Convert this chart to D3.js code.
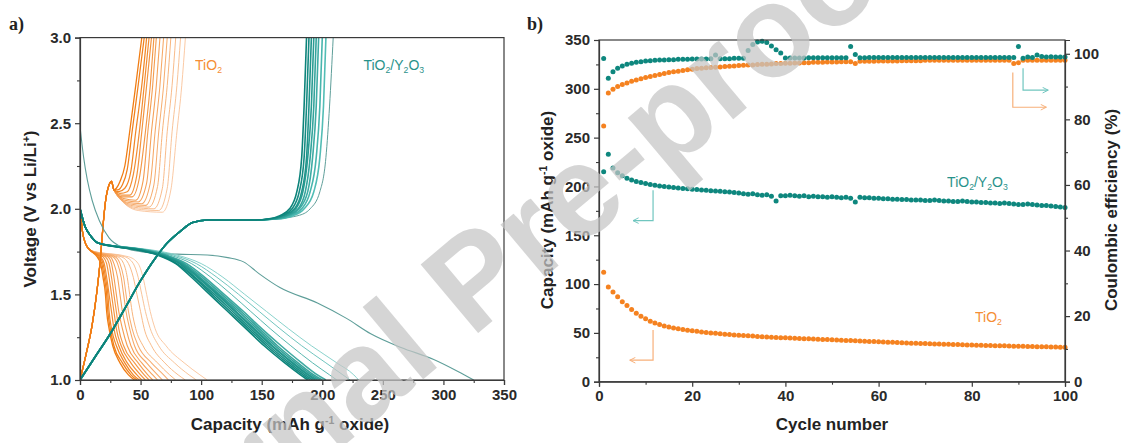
<!DOCTYPE html>
<html><head><meta charset="utf-8">
<script src="https://cdn.jsdelivr.net/npm/d3@7/dist/d3.min.js"></script>
<style>
body{margin:0;background:#fff;}
svg{display:block;font-family:"Liberation Sans",Arial,sans-serif;}
</style></head><body>
<svg id="chart" width="1125" height="443"></svg>
<script>
// ---------------- Panel a data ----------------
const voltTicks = [1.0, 1.5, 2.0, 2.5, 3.0];
const voltMinor = [1.25, 1.75, 2.25, 2.75];
const capTicksA = [0, 50, 100, 150, 200, 250, 300, 350];
const capMinorA = [25, 75, 125, 175, 225, 275, 325];

// TiO2 discharge: shared start, then capacity read at each voltage level per cycle
const tio2DisStart = [[0, 2.02], [2, 1.87], [5, 1.79], [9, 1.755]];
const tio2DisV = [1.72, 1.68, 1.60, 1.50, 1.40, 1.30, 1.20, 1.10, 1.03, 1.00];
const tio2DisCaps = [
  [14, 17, 19, 21, 22, 24, 27, 33, 40, 45],
  [15, 18, 20, 22, 23, 25, 28, 35, 42, 47],
  [16, 19, 21, 23, 24, 26, 30, 37, 44, 49],
  [17, 20, 22, 24, 26, 28, 32, 39, 47, 51],
  [19, 22, 24, 26, 28, 30, 34, 42, 50, 54],
  [21, 24, 26, 28, 30, 32, 36, 45, 53, 57],
  [23, 26, 28, 30, 32, 35, 39, 48, 56, 60],
  [25, 28, 31, 33, 35, 38, 42, 51, 60, 64],
  [27, 31, 34, 36, 38, 41, 45, 55, 64, 68],
  [29, 33, 36, 38, 40, 43, 48, 59, 69, 73],
  [31, 36, 39, 41, 43, 46, 52, 64, 74, 79],
  [34, 40, 44, 47, 50, 53, 59, 70, 81, 87],
  [37, 44, 48, 51, 54, 58, 65, 78, 90, 96],
  [40, 48, 52, 55, 58, 62, 71, 86, 99, 105]
];
// TiO2 charge: shared start, then individual tails [capacity, voltage]
const tio2ChgStart = [[0, 1.0], [5, 1.15], [10, 1.32], [14, 1.52], [17, 1.72], [19, 1.9], [21, 2.04], [24, 2.14], [26, 2.16], [28, 2.11]];
const tio2ChgTails = [
  [[30, 2.12], [33, 2.16], [37, 2.25], [41, 2.45], [46, 2.72], [51, 3.0]],
  [[31, 2.11], [35, 2.14], [39, 2.23], [43, 2.45], [48, 2.72], [53, 3.0]],
  [[32, 2.10], [37, 2.12], [42, 2.22], [46, 2.45], [51, 2.72], [55, 3.0]],
  [[33, 2.09], [39, 2.10], [44, 2.20], [49, 2.45], [53, 2.72], [57, 3.0]],
  [[34, 2.08], [41, 2.08], [47, 2.20], [51, 2.45], [55, 2.72], [59, 3.0]],
  [[35, 2.07], [43, 2.07], [49, 2.18], [54, 2.45], [58, 2.72], [61, 3.0]],
  [[36, 2.06], [46, 2.05], [52, 2.16], [56, 2.45], [60, 2.72], [63, 3.0]],
  [[37, 2.05], [48, 2.04], [55, 2.15], [59, 2.45], [63, 2.72], [66, 3.0]],
  [[38, 2.04], [51, 2.03], [58, 2.15], [62, 2.45], [66, 2.72], [69, 3.0]],
  [[40, 2.03], [54, 2.02], [61, 2.14], [65, 2.45], [69, 2.72], [72, 3.0]],
  [[42, 2.02], [57, 2.01], [64, 2.13], [68, 2.45], [72, 2.72], [75, 3.0]],
  [[44, 2.01], [61, 2.00], [68, 2.12], [72, 2.45], [76, 2.72], [79, 3.0]],
  [[46, 2.00], [65, 1.99], [72, 2.12], [76, 2.45], [80, 2.72], [83, 3.0]],
  [[48, 1.99], [68, 1.98], [75, 2.11], [80, 2.45], [84, 2.72], [87, 3.0]]
];

// TiO2/Y2O3 first discharge
const tyFirstDis = [[0, 2.48], [3, 2.3], [6, 2.17], [10, 2.05], [16, 1.93], [24, 1.83], [35, 1.775], [55, 1.745], [80, 1.735], [105, 1.73], [122, 1.715], [135, 1.69], [148, 1.62], [165, 1.54], [196, 1.45], [220, 1.36], [240, 1.27], [265, 1.19], [292, 1.12], [312, 1.05], [325, 1.0]];
// TiO2/Y2O3 discharge: shared start, capacities at voltage levels
const tyDisStart = [[0, 2.0], [4, 1.9], [9, 1.84], [15, 1.80]];
const tyDisV = [1.78, 1.76, 1.73, 1.68, 1.60, 1.50, 1.40, 1.30, 1.20, 1.10, 1.03, 1.00];
const tyDisCaps = [
  [35, 59, 80, 100, 118, 136, 154, 172, 191, 212, 226, 230],
  [34, 57, 77, 96, 113, 131, 148, 165, 183, 203, 217, 223],
  [33, 55, 74, 92, 108, 125, 141, 157, 174, 192, 206, 212],
  [32, 53, 71, 88, 103, 119, 135, 150, 166, 183, 196, 203],
  [31, 52, 70, 86, 101, 117, 133, 148, 163, 180, 193, 200],
  [31, 51, 69, 85, 99, 115, 131, 146, 161, 178, 191, 198],
  [30, 50, 68, 84, 98, 114, 129, 144, 159, 176, 189, 196],
  [30, 50, 67, 83, 97, 113, 128, 143, 158, 175, 188, 194],
  [29, 49, 66, 82, 95, 111, 126, 141, 156, 173, 186, 192],
  [29, 48, 65, 80, 94, 109, 124, 139, 154, 171, 184, 190],
  [28, 47, 64, 79, 92, 107, 122, 137, 152, 169, 182, 188]
];
// TiO2/Y2O3 charge: shared start, then tails
const tyChgStart = [[0, 1.0], [12, 1.13], [25, 1.27], [38, 1.43], [50, 1.58], [62, 1.71], [72, 1.8], [83, 1.87], [93, 1.92], [105, 1.935], [125, 1.935], [145, 1.935]];
const tyChgTails = [
  [[165, 1.945], [180, 1.96], [190, 2.0], [198, 2.1], [203, 2.3], [206, 2.6], [209, 3.0]],
  [[162, 1.94], [176, 1.96], [185, 2.0], [193, 2.1], [198, 2.3], [201, 2.6], [203, 3.0]],
  [[161, 1.94], [174, 1.96], [183, 2.0], [190, 2.1], [195, 2.3], [198, 2.6], [200, 3.0]],
  [[160, 1.94], [172, 1.96], [181, 2.0], [188, 2.1], [192, 2.3], [195, 2.6], [197, 3.0]],
  [[159, 1.94], [171, 1.96], [180, 2.0], [186, 2.1], [190, 2.3], [193, 2.6], [195, 3.0]],
  [[158, 1.94], [170, 1.96], [178, 2.0], [184, 2.1], [188, 2.3], [191, 2.6], [193, 3.0]],
  [[157, 1.94], [168, 1.96], [177, 2.0], [183, 2.1], [187, 2.3], [189, 2.6], [191, 3.0]],
  [[156, 1.94], [167, 1.96], [175, 2.0], [181, 2.1], [185, 2.3], [187, 2.6], [189, 3.0]],
  [[155, 1.94], [165, 1.96], [173, 2.0], [179, 2.1], [183, 2.3], [185, 2.6], [187, 3.0]]
];

// ---------------- Panel b data ----------------
const cycleTicks = [0, 20, 40, 60, 80, 100];
const cycleMinor = [10, 30, 50, 70, 90];
const capTicksB = [0, 50, 100, 150, 200, 250, 300, 350];
const capMinorB = [25, 75, 125, 175, 225, 275, 325];
const ceTicks = [0, 20, 40, 60, 80, 100];
const ceMinor = [10, 30, 50, 70, 90];
const cycles = d3.range(1, 101);

const tio2Cap = [112, 97, 92, 87, 82, 78, 74, 70, 67, 64.5, 62, 60, 58.5, 57, 56, 55, 54.2, 53.5, 52.8, 52.2,
  51.6, 51, 50.5, 50, 49.5, 49.1, 48.7, 48.3, 47.9, 47.6, 47.3, 47, 46.7, 46.4, 46.1, 45.8, 45.5, 45.3, 45.1, 44.9,
  44.7, 44.5, 44.3, 44.1, 43.9, 43.7, 43.5, 43.3, 43.1, 42.9, 42.7, 42.5, 42.3, 42.1, 41.9, 41.7, 41.5, 41.3, 41.1, 40.9,
  40.7, 40.5, 40.3, 40.1, 39.9, 39.7, 39.5, 39.4, 39.2, 39.0, 38.9, 38.7, 38.6, 38.4, 38.3, 38.1, 38.0, 37.8, 37.7, 37.6,
  37.4, 37.3, 37.2, 37.0, 36.9, 36.8, 36.7, 36.5, 36.4, 36.3, 36.2, 36.1, 36.0, 35.9, 35.8, 35.7, 35.6, 35.5, 35.4, 35.3];
const tio2CE = [78, 88, 89.2, 90.0, 90.6, 91.1, 91.6, 92.0, 92.4, 92.8, 93.1, 93.4, 93.7, 94.0, 94.3, 94.5, 94.7, 94.9, 95.1, 95.3,
  95.5, 95.6, 95.7, 95.8, 95.9, 96.0, 96.1, 96.2, 96.3, 96.4, 96.5, 96.6, 96.6, 96.7, 96.8, 96.8, 96.9, 97.0, 97.0, 97.1,
  97.1, 97.2, 97.2, 97.3, 97.3, 97.4, 97.4, 97.4, 97.5, 97.5, 97.5, 97.6, 97.6, 97.6, 97.0, 97.7, 97.7, 97.7, 97.7, 97.8,
  97.8, 97.8, 97.8, 97.8, 97.9, 97.9, 97.9, 97.9, 97.9, 98.0, 98.0, 98.0, 98.0, 98.0, 98.0, 98.0, 98.0, 98.0, 98.0, 98.0,
  98.0, 98.0, 98.0, 98.0, 98.0, 98.0, 98.0, 98.0, 97.0, 97.3, 98.0, 98.0, 98.0, 98.0, 98.0, 98.0, 98.0, 98.0, 98.0, 98.0];
const tyCap = [331, 233, 219, 214, 211, 208.5, 206.5, 205, 204, 203, 202, 201.2, 200.5, 200, 199.5, 199, 198.5, 198, 197.6, 197.2,
  196.8, 196.4, 196, 195.6, 195.3, 195, 194.6, 194.2, 193.8, 193.2, 192.6, 192, 192.5, 191.5, 191, 191.5, 190, 185, 190.5, 190.5,
  191, 190.5, 190, 190.5, 189.5, 190, 189.5, 189.5, 189, 189.5, 189, 188.5, 189, 188, 184, 189, 188.5, 188.5, 188, 188,
  187.5, 187.5, 187, 187, 186.5, 186.5, 186, 186, 186, 185.5, 185.5, 186, 185.5, 185, 185, 184.5, 184.5, 185, 184.5, 184,
  184, 183.5, 183.5, 183, 183, 182.5, 183, 182.5, 182, 181.5, 181.5, 182, 181.5, 181, 180.5, 180.5, 180, 179.5, 179, 178.5];
const tyCE = [64, 92.5, 94.5, 95.6, 96.3, 96.8, 97.1, 97.4, 97.6, 97.8, 97.9, 98.0, 98.1, 98.1, 98.2, 98.2, 98.3, 98.3, 98.3, 98.4,
  98.4, 98.4, 98.4, 98.5, 99.6, 98.5, 98.5, 98.5, 98.6, 98.6, 98.6, 101.0, 102.8, 103.6, 103.8, 103.4, 102.4, 101.2, 100.2, 98.7,
  98.7, 98.7, 98.7, 98.7, 98.8, 98.8, 98.8, 98.8, 98.8, 98.8, 98.8, 98.8, 98.8, 102.2, 99.8, 98.8, 98.8, 98.9, 98.9, 98.9,
  98.9, 98.9, 98.9, 98.9, 98.9, 98.9, 98.9, 98.9, 98.9, 98.9, 98.9, 98.9, 98.9, 98.9, 98.9, 98.9, 98.9, 98.9, 98.9, 98.9,
  98.9, 98.9, 98.9, 98.9, 98.9, 98.9, 98.9, 98.9, 98.9, 102.2, 98.6, 99.0, 98.9, 99.6, 99.2, 99.0, 99.1, 99.0, 99.0, 99.0];

// annotation arrows (data coordinates)
const arrowsB = [
  {series: "ty", axis: "left", pts: [[11.6, 196], [11.6, 165], [7.3, 165]]},
  {series: "tio2", axis: "left", pts: [[11.6, 53], [11.6, 22], [6.6, 22]]},
  {series: "ty", axis: "right", pts: [[91, 95.6], [91, 88.9], [96.4, 88.9]]},
  {series: "tio2", axis: "right", pts: [[88.8, 94.3], [88.8, 83.7], [96, 83.7]]}
];
const labelsA = [
  {series: "tio2", parts: [["TiO", 0], ["2", 1]], x: 95, y: 2.81},
  {series: "ty", parts: [["TiO", 0], ["2", 1], ["/Y", 0], ["2", 1], ["O", 0], ["3", 1]], x: 234, y: 2.81}
];
const labelsB = [
  {series: "ty", parts: [["TiO", 0], ["2", 1], ["/Y", 0], ["2", 1], ["O", 0], ["3", 1]], x: 74.7, y: 199.5},
  {series: "tio2", parts: [["TiO", 0], ["2", 1]], x: 80.7, y: 61}
];

// ---------------- Styling ----------------
const ORANGE = "#F58220", TEAL = "#0E877E";
const LIGHT = {tio2: "#F7B07A", ty: "#70C6BF"};
const MAIN = {tio2: ORANGE, ty: TEAL};
const AXIS = "#3a3a3a";

const svg = d3.select("#chart");

// ---------------- Panel a ----------------
const xA = d3.scaleLinear().domain([0, 350]).range([80, 504]);
const yA = d3.scaleLinear().domain([1, 3]).range([380, 37.6]);
const lineA = d3.line().x(d => xA(d[0])).y(d => yA(d[1])).curve(d3.curveMonotoneX);

svg.append("clipPath").attr("id", "clipA").append("rect")
  .attr("x", xA(0)).attr("y", yA(3) - 1).attr("width", xA(350) - xA(0)).attr("height", yA(1) - yA(3) + 2);
const gA = svg.append("g").attr("clip-path", "url(#clipA)");

const oCol = d3.scaleLinear().domain([0, tio2DisCaps.length - 1]).range(["#F07C12", "#F9C39A"]);
const oW = d3.scaleLinear().domain([0, tio2DisCaps.length - 1]).range([1.3, 0.9]);
for (let i = tio2DisCaps.length - 1; i >= 0; i--) {
  const pts = tio2DisStart.concat(tio2DisCaps[i].map((c, j) => [c, tio2DisV[j]]));
  gA.append("path").attr("d", lineA(pts)).attr("fill", "none")
    .attr("stroke", oCol(i)).attr("stroke-width", oW(i));
}
for (let i = tio2ChgTails.length - 1; i >= 0; i--) {
  const pts = tio2ChgStart.concat(tio2ChgTails[i]);
  gA.append("path").attr("d", lineA(pts)).attr("fill", "none")
    .attr("stroke", oCol(i)).attr("stroke-width", oW(i));
}
gA.append("path").attr("d", lineA(tyFirstDis)).attr("fill", "none").attr("stroke", "#5E9E99").attr("stroke-width", 1.1);
const tCol = d3.scaleLinear().domain([0, 3, tyDisCaps.length - 1]).range(["#8AD3CD", "#3FAAA2", "#0C837A"]);
tyDisCaps.forEach((caps, i) => {
  const pts = tyDisStart.concat(caps.map((c, j) => [c, tyDisV[j]]));
  gA.append("path").attr("d", lineA(pts)).attr("fill", "none")
    .attr("stroke", tCol(i)).attr("stroke-width", i < 3 ? 1 : 1.6);
});
const tcCol = d3.scaleLinear().domain([0, 1, tyChgTails.length - 1]).range(["#5E9E99", "#52BDB5", "#0C837A"]);
tyChgTails.forEach((tail, i) => {
  const pts = tyChgStart.concat(tail);
  gA.append("path").attr("d", lineA(pts)).attr("fill", "none")
    .attr("stroke", tcCol(i)).attr("stroke-width", i === 0 ? 1 : 1.6);
});

svg.append("rect").attr("x", xA(0)).attr("y", yA(3)).attr("width", xA(350) - xA(0)).attr("height", yA(1) - yA(3))
  .attr("fill", "none").attr("stroke", AXIS).attr("stroke-width", 1.2);

function styleAxis(g) {
  g.select(".domain").attr("stroke", AXIS).attr("stroke-width", 1.2);
  g.selectAll(".tick line").attr("stroke", AXIS).attr("stroke-width", 1.2);
  g.selectAll(".tick text").attr("fill", "#2a2a2a").style("font-size", "15px").style("font-weight", "bold")
    .style("font-family", "'Liberation Sans', Arial, sans-serif");
}
function minorAxis(g) { g.select(".domain").remove(); g.selectAll(".tick line").attr("stroke", AXIS).attr("stroke-width", 1.1); }

svg.append("g").attr("transform", `translate(${xA(0)},0)`)
  .call(d3.axisLeft(yA).tickValues(voltTicks).tickFormat(d3.format(".1f")).tickSize(5).tickPadding(4)).call(styleAxis);
svg.append("g").attr("transform", `translate(${xA(0)},0)`)
  .call(d3.axisLeft(yA).tickValues(voltMinor).tickFormat("").tickSize(3)).call(minorAxis);
svg.append("g").attr("transform", `translate(0,${yA(1)})`)
  .call(d3.axisBottom(xA).tickValues(capTicksA).tickFormat(d3.format("d")).tickSize(5).tickPadding(4)).call(styleAxis);
svg.append("g").attr("transform", `translate(0,${yA(1)})`)
  .call(d3.axisBottom(xA).tickValues(capMinorA).tickFormat("").tickSize(3)).call(minorAxis);

// ---------------- Panel b ----------------
const xB = d3.scaleLinear().domain([0, 100]).range([599, 1065]);
const yB = d3.scaleLinear().domain([0, 350]).range([381.7, 40]);
const yB2 = d3.scaleLinear().domain([0, 104.2]).range([381.7, 40]);

const gB = svg.append("g");
function series(vals, yS, color) {
  const pts = vals.map((v, i) => [cycles[i], v]);
  gB.append("g").selectAll("circle").data(pts).join("circle")
    .attr("cx", d => xB(d[0])).attr("cy", d => yS(d[1])).attr("r", 2.5).attr("fill", color);
}
series(tio2Cap, yB, ORANGE);
series(tio2CE, yB2, ORANGE);
series(tyCap, yB, TEAL);
series(tyCE, yB2, TEAL);

const defs = svg.append("defs");
["tio2", "ty"].forEach(s => {
  defs.append("marker").attr("id", "arr-" + s).attr("viewBox", "0 0 10 10").attr("refX", 9).attr("refY", 5)
    .attr("markerWidth", 7).attr("markerHeight", 7).attr("orient", "auto-start-reverse").attr("markerUnits", "userSpaceOnUse")
    .append("path").attr("d", "M1,1 L9,5 L1,9").attr("fill", "none").attr("stroke", LIGHT[s]).attr("stroke-width", 1.4);
});
arrowsB.forEach(a => {
  const yS = a.axis === "left" ? yB : yB2;
  gB.append("path").attr("d", d3.line().x(d => xB(d[0])).y(d => yS(d[1]))(a.pts))
    .attr("fill", "none").attr("stroke", LIGHT[a.series]).attr("stroke-width", 1.2)
    .attr("marker-end", `url(#arr-${a.series})`);
});

svg.append("rect").attr("x", xB(0)).attr("y", yB(350)).attr("width", xB(100) - xB(0)).attr("height", yB(0) - yB(350))
  .attr("fill", "none").attr("stroke", AXIS).attr("stroke-width", 1.2);

svg.append("g").attr("transform", `translate(${xB(0)},0)`)
  .call(d3.axisLeft(yB).tickValues(capTicksB).tickFormat(d3.format("d")).tickSize(5).tickPadding(4)).call(styleAxis);
svg.append("g").attr("transform", `translate(${xB(0)},0)`)
  .call(d3.axisLeft(yB).tickValues(capMinorB).tickFormat("").tickSize(3)).call(minorAxis);
svg.append("g").attr("transform", `translate(${xB(100)},0)`)
  .call(d3.axisRight(yB2).tickValues(ceTicks).tickFormat(d3.format("d")).tickSize(5).tickPadding(4)).call(styleAxis);
svg.append("g").attr("transform", `translate(${xB(100)},0)`)
  .call(d3.axisRight(yB2).tickValues(ceMinor).tickFormat("").tickSize(3)).call(minorAxis);
svg.append("g").attr("transform", `translate(0,${yB(0)})`)
  .call(d3.axisBottom(xB).tickValues(cycleTicks).tickFormat(d3.format("d")).tickSize(5).tickPadding(4)).call(styleAxis);
svg.append("g").attr("transform", `translate(0,${yB(0)})`)
  .call(d3.axisBottom(xB).tickValues(cycleMinor).tickFormat("").tickSize(3)).call(minorAxis);

// ---------------- Text ----------------
function richText(x, y, parts, color, size) {
  const t = svg.append("text").attr("x", x).attr("y", y).attr("fill", color)
    .style("font-size", size + "px");
  parts.forEach(p => {
    const ts = t.append("tspan").text(p[0]);
    if (p[1] === 1) ts.attr("baseline-shift", "-28%").style("font-size", (size * 0.62) + "px");
    if (p[1] === 2) ts.attr("baseline-shift", "super").style("font-size", (size * 0.62) + "px");
  });
  return t;
}
labelsA.forEach(l => richText(xA(l.x), yA(l.y), l.parts, MAIN[l.series], 14).attr("opacity", 0.9));
labelsB.forEach(l => richText(xB(l.x), yB(l.y), l.parts, MAIN[l.series], 14).attr("opacity", 0.9));

function title(x, y, rot, parts) {
  return richText(0, 0, parts, "#222", 17).attr("text-anchor", "middle").style("font-weight", "bold")
    .attr("transform", `translate(${x},${y}) rotate(${rot})`);
}
title(290, 430, 0, [["Capacity (mAh g", 0], ["-1", 2], [" oxide)", 0]]);
title(36, 209, -90, [["Voltage (V vs Li/Li", 0], ["+", 2], [")", 0]]);
title(832, 430, 0, [["Cycle number", 0]]);
title(553, 210, -90, [["Capacity (mAh g", 0], ["-1", 2], [" oxide)", 0]]);
title(1117, 210, -90, [["Coulombic efficiency (%)", 0]]);

svg.append("text").attr("x", 9).attr("y", 30).text("a)").attr("fill", "#222")
  .style("font-family", "'Liberation Serif', 'Times New Roman', serif").style("font-weight", "bold").style("font-size", "18px");
svg.append("text").attr("x", 527).attr("y", 30).text("b)").attr("fill", "#222")
  .style("font-family", "'Liberation Serif', 'Times New Roman', serif").style("font-weight", "bold").style("font-size", "18px");

// watermark (as in the reference, it runs off the picture's edges)
svg.append("text").text("Journal Pre-proof")
  .attr("transform", "translate(502,313) rotate(-40)")
  .attr("text-anchor", "middle").attr("fill", "#c6c6c6").attr("opacity", 0.72)
  .style("font-size", "130px").style("font-weight", "bold");
</script></body></html>
